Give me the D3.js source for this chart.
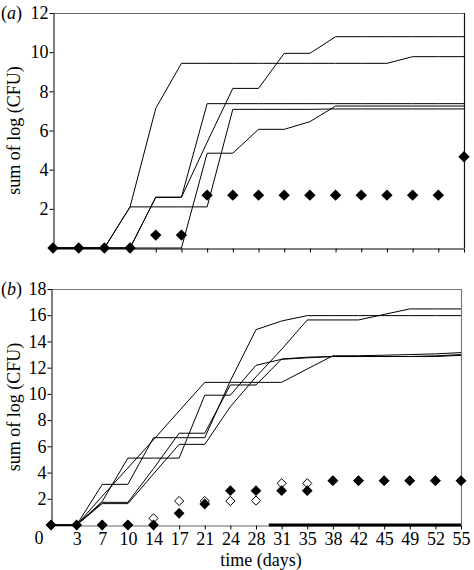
<!DOCTYPE html>
<html>
<head>
<meta charset="utf-8">
<script src="https://cdn.jsdelivr.net/npm/d3@7"></script>
<style>
  html, body { margin: 0; padding: 0; background: #fff; }
  svg { display: block; }
  text { font-family: "Liberation Serif", "Times New Roman", serif; fill: #000; }
</style>
</head>
<body>
<svg id="chart" width="474" height="570"></svg>
<script>
// ---------- data ----------
const days = ["0","3","7","10","14","17","21","24","28","31","35","38","42","45","49","52","55"];

// panel (a)
const aLine1 = [0,0,0,2.1,7.13,9.43,9.43,9.43,9.43,9.43,9.43,9.43,9.43,9.43,9.77,9.77,9.77];
const aLine2 = [0,0,0,2.1,2.1,2.1,2.1,7.08,7.08,7.08,7.08,7.1,7.1,7.1,7.1,7.1,7.1];
const aLine3 = [0,0,0,0,2.59,2.59,5.4,8.15,8.15,9.94,9.94,10.79,10.79,10.79,10.79,10.79,10.79];
const aLine4 = [0,0,0,0,2.59,2.59,7.37,7.37,7.37,7.37,7.37,7.37,7.37,7.37,7.37,7.37,7.37];
const aLine5 = [0,0,0,0,0,0,4.84,4.84,6.06,6.06,6.45,7.25,7.25,7.25,7.25,7.25,7.25];
const aDiamonds = [0,0,0,0,0.66,0.66,2.7,2.7,2.7,2.7,2.7,2.7,2.7,2.7,2.7,2.7,4.66];
const aYTicks = [0,2,4,6,8,10,12];

// panel (b)
const bLine1 = [0,0,3.1,3.1,6.66,6.66,6.66,11.0,14.9,15.56,15.97,15.97,15.97,15.97,15.97,15.97,15.97];
const bLine2 = [0,0,1.63,1.63,3.9,6.15,6.15,9.03,11.3,13.4,15.64,15.64,15.64,16.06,16.48,16.48,16.48];
const bLine3 = [0,0,2.2,4.35,6.5,8.7,10.88,10.88,10.88,10.88,11.9,12.91,12.91,12.95,13.0,13.05,13.15];
const bLine4 = [0,0,1.73,1.73,4.3,7.0,7.0,10.68,10.68,12.66,12.8,12.85,12.85,12.85,12.85,12.85,12.94];
const bLine5 = [0,0,1.8,5.1,5.1,5.1,9.9,9.9,12.18,12.64,12.75,12.85,12.85,12.85,12.85,12.9,13.0];
const bFilled = [0,0,0,0,0,0.89,1.6,2.62,2.62,2.62,2.62,3.38,3.38,3.38,3.38,3.38,3.38];
const bHollow = [0,0,0,0,0.51,1.83,1.83,1.83,1.86,3.18,3.18,3.38,3.38,3.38,3.38,3.38,3.38];
const bBaseline = { from: 8.5, to: 16, value: 0 };
const bYTicks = [0,2,4,6,8,10,12,14,16,18];

// ---------- drawing ----------
const svg = d3.select("#chart");
const FS = 18;

function diamond(r) {
  return `M0,${-r}L${r},0L0,${r}L${-r},0Z`;
}

function panel(cfg) {
  const g = svg.append("g");
  const x = d3.scaleLinear().domain([0, days.length - 1]).range([cfg.left, cfg.right]);
  const y = d3.scaleLinear().domain([0, cfg.ymax]).range([cfg.bottom, cfg.top]);

  // frame (top / right)
  g.append("line").attr("x1", cfg.left).attr("x2", cfg.right)
    .attr("y1", cfg.top + 0.5).attr("y2", cfg.top + 0.5)
    .attr("stroke", cfg.frameTop).attr("stroke-width", 1.2);
  g.append("line").attr("x1", cfg.right + 0.5).attr("x2", cfg.right + 0.5)
    .attr("y1", cfg.top).attr("y2", cfg.bottom)
    .attr("stroke", cfg.frameRight).attr("stroke-width", 1.2);

  // y axis
  const ya = g.append("g").attr("transform", `translate(${cfg.left + 0.5},0)`)
    .call(d3.axisLeft(y).tickValues(cfg.yTicks).tickSize(4).tickSizeOuter(0).tickPadding(1)
      .tickFormat(d => d === 0 ? "" : d));
  ya.selectAll("path,line").attr("stroke", "#000").attr("stroke-width", 1);
  ya.selectAll("text").attr("font-size", FS).attr("font-family", "Liberation Serif");

  // x axis
  const xa = g.append("g").attr("transform", `translate(0,${cfg.bottom + 0.5})`)
    .call(d3.axisBottom(x).tickValues(d3.range(days.length)).tickSize(4).tickSizeOuter(0).tickPadding(3)
      .tickFormat(i => cfg.xLabels ? (i === 0 ? "" : days[i]) : ""));
  xa.select("path").attr("stroke", cfg.xAxisColor).attr("stroke-width", 1.2);
  xa.selectAll("line").attr("stroke", "#000");
  xa.selectAll("text").attr("font-size", FS).attr("font-family", "Liberation Serif");

  const line = d3.line().x((d, i) => x(i)).y(d => y(d));
  cfg.lines.forEach(arr => {
    g.append("path").attr("d", line(arr)).attr("fill", "none")
      .attr("stroke", "#000").attr("stroke-width", 1).attr("stroke-linejoin", "miter");
  });

  // y title
  g.append("text")
    .attr("transform", `translate(${cfg.titleX},${(cfg.top + cfg.bottom) / 2}) rotate(-90)`)
    .attr("text-anchor", "middle").attr("font-size", FS)
    .text("sum of log (CFU)");

  // panel label
  const pl = g.append("text").attr("x", 1).attr("y", cfg.labelY).attr("font-size", FS);
  pl.append("tspan").text("(");
  pl.append("tspan").attr("font-style", "italic").text(cfg.letter);
  pl.append("tspan").text(")");

  return { g, x, y };
}

// panel (a)
const A = panel({
  left: 53, right: 464, top: 13, bottom: 248, ymax: 12, yTicks: aYTicks,
  xLabels: false, frameTop: "#666", frameRight: "#111", xAxisColor: "#000",
  lines: [aLine1, aLine2, aLine3, aLine4, aLine5],
  titleX: 20, labelY: 19, letter: "a"
});
A.g.selectAll(".dA").data(aDiamonds).join("path")
  .attr("d", diamond(5.7))
  .attr("transform", (d, i) => `translate(${A.x(i)},${A.y(d)})`)
  .attr("fill", "#000");

// panel (b)
const B = panel({
  left: 51, right: 461, top: 289, bottom: 525, ymax: 18, yTicks: bYTicks,
  xLabels: true, frameTop: "#777", frameRight: "#777", xAxisColor: "#666",
  lines: [bLine1, bLine2, bLine3, bLine4, bLine5],
  titleX: 19.5, labelY: 295, letter: "b"
});
// thick baseline segment
B.g.append("line")
  .attr("x1", B.x(bBaseline.from)).attr("x2", B.x(bBaseline.to))
  .attr("y1", B.y(bBaseline.value)).attr("y2", B.y(bBaseline.value))
  .attr("stroke", "#000").attr("stroke-width", 3);
// hollow diamonds (below), filled on top
B.g.selectAll(".dH").data(bHollow).join("path")
  .attr("d", diamond(4.6))
  .attr("transform", (d, i) => `translate(${B.x(i)},${B.y(d)})`)
  .attr("fill", "#fff").attr("stroke", "#000").attr("stroke-width", 1);
B.g.selectAll(".dF").data(bFilled).join("path")
  .attr("d", diamond(5.4))
  .attr("transform", (d, i) => `translate(${B.x(i)},${B.y(d)})`)
  .attr("fill", "#000");
// "0" category label
svg.append("text").attr("x", 39).attr("y", 544).attr("text-anchor", "middle")
  .attr("font-size", FS).text(days[0]);
// x title
svg.append("text").attr("x", 261).attr("y", 566).attr("text-anchor", "middle")
  .attr("font-size", FS).text("time (days)");
</script>
</body>
</html>
